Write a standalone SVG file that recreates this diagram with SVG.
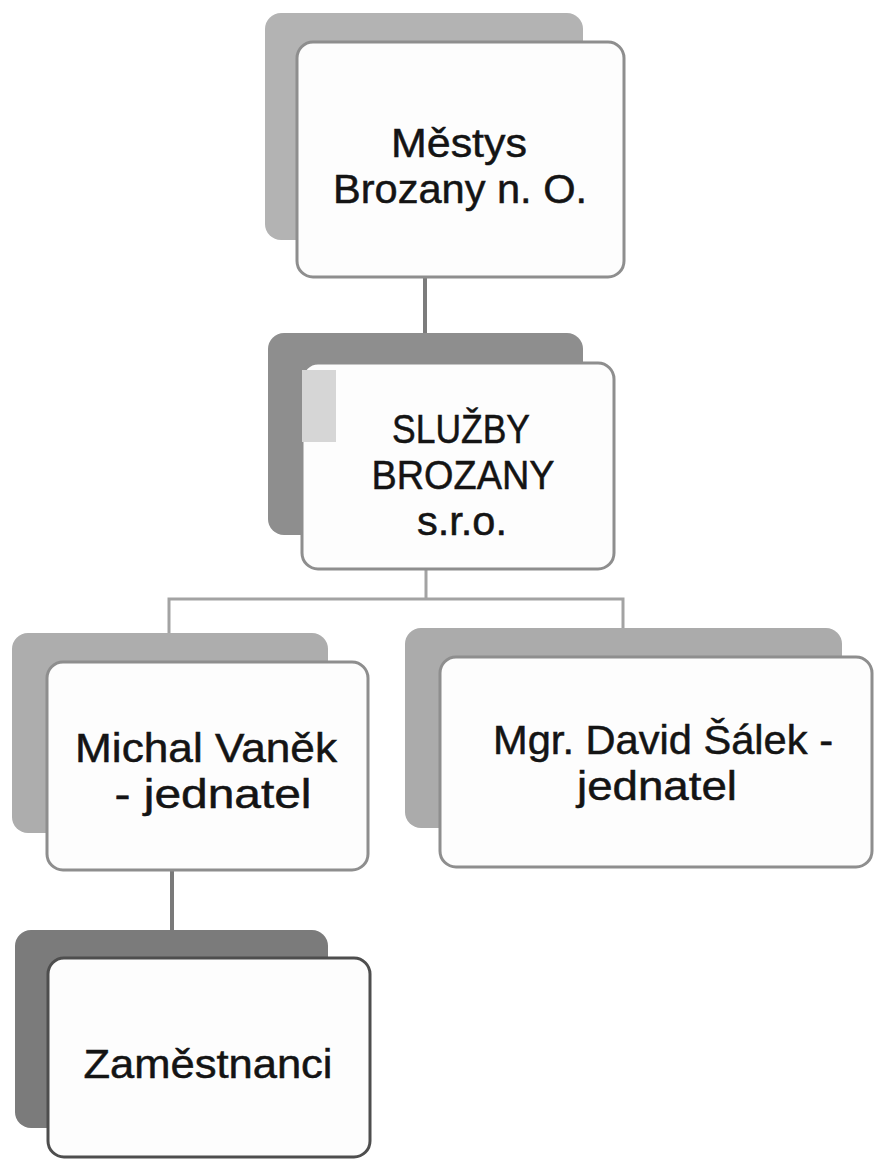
<svg xmlns="http://www.w3.org/2000/svg" width="874" height="1160" viewBox="0 0 874 1160">
<style>
.back{stroke:none}
.front{fill:#fdfdfd;stroke:#8e8e8e;stroke-width:3}
.lbl{font-family:"Liberation Sans",Arial,sans-serif;font-size:40px;fill:#141414;stroke:#141414;stroke-width:0.5;text-anchor:middle}
.conn{fill:none;stroke:#a3a3a3;stroke-width:3}
</style>
<rect width="874" height="1160" fill="#ffffff"/>
<g id="connectors">
<line class="conn" x1="425" y1="277" x2="425" y2="334" style="stroke:#7c7c7c;stroke-width:4"/>
<polyline class="conn" points="426,569 426,599"/>
<polyline class="conn" points="169,633 169,599 623,599 623,628"/>
<line class="conn" x1="172" y1="870" x2="172" y2="931" style="stroke:#7a7a7a;stroke-width:4"/>
</g>
<g id="node-mestys">
<rect class="back" x="265" y="13" width="318" height="227" rx="16" fill="#b3b3b3"/>
<rect class="front" x="297" y="42" width="327" height="235" rx="16"/>
<text class="lbl" x="459" y="157" textLength="136" lengthAdjust="spacingAndGlyphs">Městys</text>
<text class="lbl" x="460" y="203" textLength="254" lengthAdjust="spacingAndGlyphs">Brozany n. O.</text>
</g>
<g id="node-sluzby">
<rect class="back" x="268" y="333" width="315" height="202" rx="16" fill="#8e8e8e"/>
<rect class="front" x="302" y="363" width="312" height="206" rx="16"/>
<rect x="302" y="370" width="34" height="72" fill="#d6d6d6"/>
<text class="lbl" x="461" y="443" textLength="138" lengthAdjust="spacingAndGlyphs">SLUŽBY</text>
<text class="lbl" x="463" y="489" textLength="183" lengthAdjust="spacingAndGlyphs">BROZANY</text>
<text class="lbl" x="462" y="535" textLength="90" lengthAdjust="spacingAndGlyphs">s.r.o.</text>
</g>
<g id="node-vanek">
<rect class="back" x="12" y="633" width="316" height="200" rx="16" fill="#adadad"/>
<rect class="front" x="47" y="662" width="321" height="208" rx="16"/>
<text class="lbl" x="206" y="762" textLength="262" lengthAdjust="spacingAndGlyphs">Michal Vaněk</text>
<text class="lbl" x="213" y="808" textLength="197" lengthAdjust="spacingAndGlyphs">- jednatel</text>
</g>
<g id="node-salek">
<rect class="back" x="405" y="628" width="437" height="200" rx="16" fill="#ababab"/>
<rect class="front" x="440" y="657" width="432" height="210" rx="16"/>
<text class="lbl" x="663" y="754" textLength="340" lengthAdjust="spacingAndGlyphs">Mgr. David Šálek -</text>
<text class="lbl" x="657" y="800" textLength="160" lengthAdjust="spacingAndGlyphs">jednatel</text>
</g>
<g id="node-zamestnanci">
<rect class="back" x="15" y="930" width="313" height="198" rx="16" fill="#7b7b7b"/>
<rect class="front" x="48" y="958" width="322" height="199" rx="16" style="stroke:#4e4e4e"/>
<text class="lbl" x="208" y="1078" textLength="249" lengthAdjust="spacingAndGlyphs">Zaměstnanci</text>
</g>
</svg>
